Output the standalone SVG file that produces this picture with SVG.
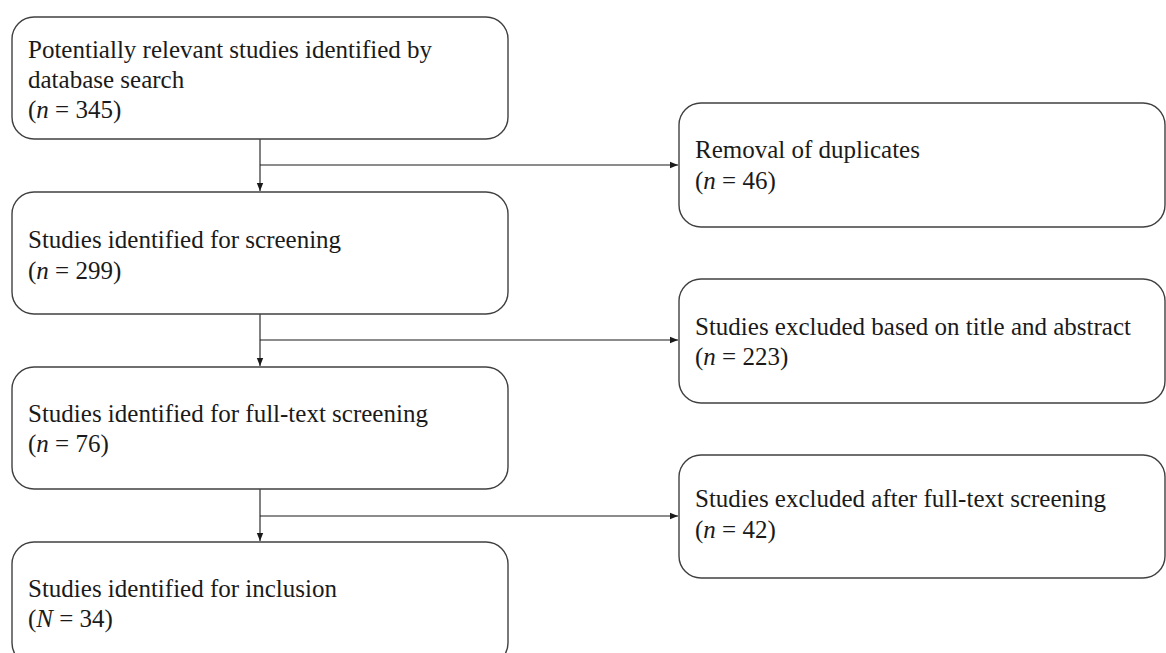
<svg xmlns="http://www.w3.org/2000/svg" width="1166" height="653" viewBox="0 0 1166 653">
<style>
.box{fill:#fff;stroke:#404040;stroke-width:1.4}
.t{font-family:"Liberation Serif","Times New Roman",serif;font-size:25px;fill:#1a1a1a}
.i{font-style:italic}
.c{fill:none;stroke:#1a1a1a;stroke-width:1.1}
</style>
<defs>
<marker id="ah" markerWidth="8" markerHeight="8" refX="8" refY="4" orient="auto" markerUnits="userSpaceOnUse">
<path d="M0,0.8 L8,4 L0,7.2 Z" fill="#1a1a1a"/>
</marker>
</defs>
<rect width="1166" height="653" fill="#fff"/>
<g id="connectors">
<line class="c" x1="260" y1="139" x2="260" y2="191" marker-end="url(#ah)"/>
<line class="c" x1="260" y1="165" x2="678" y2="165" marker-end="url(#ah)"/>
<line class="c" x1="260" y1="314" x2="260" y2="366" marker-end="url(#ah)"/>
<line class="c" x1="260" y1="340" x2="678" y2="340" marker-end="url(#ah)"/>
<line class="c" x1="260" y1="489" x2="260" y2="541" marker-end="url(#ah)"/>
<line class="c" x1="260" y1="516" x2="678" y2="516" marker-end="url(#ah)"/>
</g>
<g id="n1">
<rect class="box" x="12" y="17" width="496" height="122" rx="22"/>
<text class="t" x="28" y="58">Potentially relevant studies identified by</text>
<text class="t" x="28" y="88">database search</text>
<text class="t" x="28" y="118">(<tspan class="i">n</tspan> = 345)</text>
</g>
<g id="n2">
<rect class="box" x="12" y="192" width="496" height="122" rx="22"/>
<text class="t" x="28" y="248">Studies identified for screening</text>
<text class="t" x="28" y="279">(<tspan class="i">n</tspan> = 299)</text>
</g>
<g id="n3">
<rect class="box" x="12" y="367" width="496" height="122" rx="22"/>
<text class="t" x="28" y="422">Studies identified for full-text screening</text>
<text class="t" x="28" y="452">(<tspan class="i">n</tspan> = 76)</text>
</g>
<g id="n4">
<rect class="box" x="12" y="542" width="496" height="123" rx="22"/>
<text class="t" x="28" y="597">Studies identified for inclusion</text>
<text class="t" x="28" y="627">(<tspan class="i">N</tspan> = 34)</text>
</g>
<g id="r1">
<rect class="box" x="679" y="103" width="486" height="124" rx="22"/>
<text class="t" x="695" y="158">Removal of duplicates</text>
<text class="t" x="695" y="189">(<tspan class="i">n</tspan> = 46)</text>
</g>
<g id="r2">
<rect class="box" x="679" y="279" width="486" height="124" rx="22"/>
<text class="t" x="695" y="335">Studies excluded based on title and abstract</text>
<text class="t" x="695" y="365">(<tspan class="i">n</tspan> = 223)</text>
</g>
<g id="r3">
<rect class="box" x="679" y="455" width="486" height="123" rx="22"/>
<text class="t" x="695" y="507">Studies excluded after full-text screening</text>
<text class="t" x="695" y="538">(<tspan class="i">n</tspan> = 42)</text>
</g>
</svg>
